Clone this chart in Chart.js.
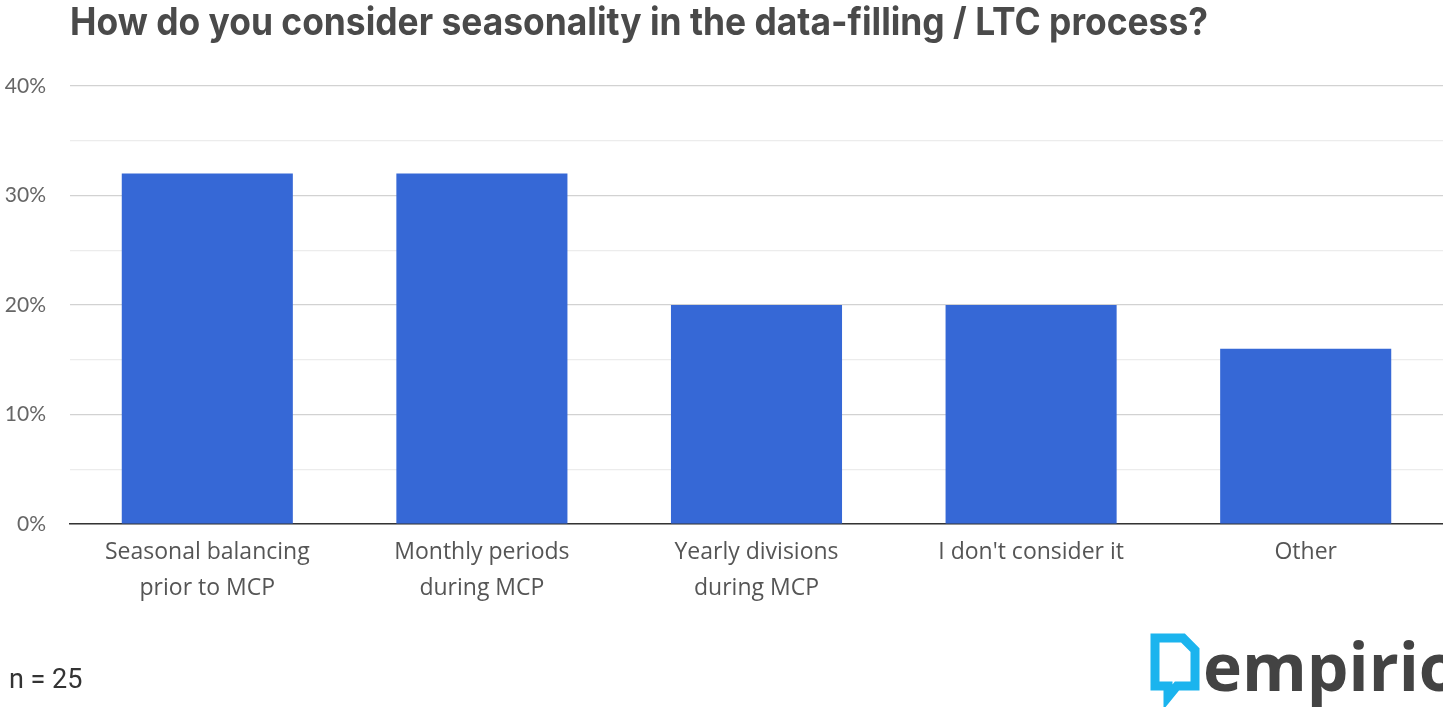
<!DOCTYPE html>
<html>
<head>
<meta charset="utf-8">
<script src="https://cdn.jsdelivr.net/npm/chart.js@4.4.1/dist/chart.umd.min.js"></script>
<style>
  html, body { margin: 0; padding: 0; background: #fff; overflow: hidden; }
  #wrap { position: relative; width: 1443px; height: 707px; }
</style>
</head>
<body>
<div id="wrap"><canvas id="chart" width="1443" height="707"></canvas></div>
<script>
// Survey answers
const categories = [
    ['Seasonal balancing', 'prior to MCP'],
    ['Monthly periods', 'during MCP'],
    ['Yearly divisions', 'during MCP'],
    ["I don't consider it"],
    ['Other']
];
const shares = [32, 32, 20, 20, 16];
const yTicks = [0, 10, 20, 30, 40];

const titleText = 'How do you consider seasonality in the data-filling / LTC process?';
const sampleText = 'n = 25';

// Title, sample size and logo drawn on top of the chart
const extras = {
    id: 'extras',
    afterDraw(chart) {
        const c = chart.ctx;
        c.save();
        // title, stretched to the reference width
        c.font = 'bold 38px Inter, "Noto Sans", sans-serif';
        c.fillStyle = '#4a4a4a';
        c.textBaseline = 'alphabetic';
        c.textAlign = 'left';
        const w = c.measureText(titleText).width;
        c.translate(70, 35);
        c.scale(1138 / w, 1);
        c.fillText(titleText, 0, 0);
        c.restore();

        c.save();
        c.font = '27px Roboto, sans-serif';
        c.fillStyle = '#333';
        c.textBaseline = 'alphabetic';
        c.fillText(sampleText, 9, 688);

        // logo mark
        c.strokeStyle = '#1bb4ee';
        c.lineWidth = 9;
        c.lineJoin = 'miter';
        c.beginPath();
        c.moveTo(1155, 638);
        c.lineTo(1183, 638);
        c.lineTo(1195, 650);
        c.lineTo(1195, 686);
        c.lineTo(1177, 686);
        c.lineTo(1168, 697);
        c.lineTo(1168, 686);
        c.lineTo(1155, 686);
        c.closePath();
        c.stroke();

        c.font = 'bold 66px "Open Sans", sans-serif';
        c.fillStyle = '#434343';
        c.fillText('empirio', 1203, 691);
        c.restore();
    }
};

new Chart(document.getElementById('chart'), {
    type: 'bar',
    data: {
        labels: categories,
        datasets: [{
            data: shares,
            backgroundColor: '#3668d6',
            borderWidth: 0,
            categoryPercentage: 1,
            barPercentage: 0.623
        }]
    },
    options: {
        responsive: false,
        devicePixelRatio: 1,
        animation: false,
        layout: { padding: { top: 86, right: 0, bottom: 0, left: 0 } },
        plugins: {
            legend: { display: false },
            tooltip: { enabled: false }
        },
        scales: {
            x: {
                grid: { display: false, drawTicks: false },
                border: { display: true, color: '#333', width: 1.5 },
                ticks: {
                    color: '#555',
                    padding: 11,
                    maxRotation: 0,
                    autoSkip: false,
                    font: { family: '"Open Sans", "Noto Sans", sans-serif', size: 23, lineHeight: 1.55 }
                },
                afterFit(scale) { scale.height = 183; }
            },
            y: {
                min: 0,
                max: 40,
                grid: {
                    drawTicks: false,
                    lineWidth: 1.2,
                    color: (ctx) => ctx.tick && yTicks.includes(ctx.tick.value) ? '#d2d2d2' : '#ececec'
                },
                border: { display: false },
                ticks: {
                    stepSize: 5,
                    autoSkip: false,
                    padding: 24,
                    color: '#666',
                    font: { family: 'Lato, "Noto Sans", sans-serif', size: 21 },
                    callback: (v) => yTicks.includes(v) ? v + '%' : ''
                },
                afterFit(scale) { scale.width = 70; }
            }
        }
    },
    plugins: [extras]
});
</script>
</body>
</html>
